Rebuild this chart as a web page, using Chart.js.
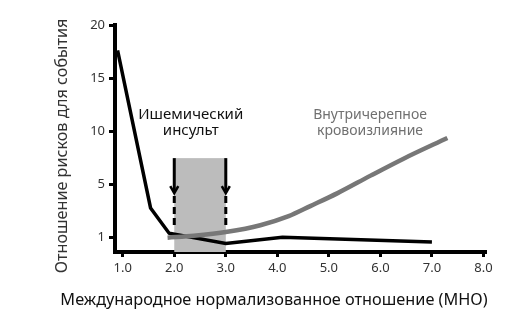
<!DOCTYPE html>
<html>
<head>
<meta charset="utf-8">
<script src="https://cdn.jsdelivr.net/npm/chart.js@4/dist/chart.umd.min.js"></script>
<style>
    body { margin: 0; background: #fff; }
    #contenedor { width: 529px; height: 328px; }
</style>
</head>
<body>
<div id="contenedor"><canvas id="grafica"></canvas></div>
<script>
// Valores de la grafica
const etiquetasY = [1, 5, 10, 15, 20];
const etiquetasX = [1, 2, 3, 4, 5, 6, 7, 8];

const isquemicoX = [0.9, 1.54, 1.9, 3.0, 4.1, 7.0];
const isquemicoY = [17.6, 3.2, 1.3, 0.88, 1.0, 0.91];

const hemorragiaX = [1.87, 2.38, 3.03, 3.67, 4.22, 4.64, 5.17, 5.81, 6.45, 7.3];
const hemorragiaY = [0.99, 1.1, 1.4, 1.9, 2.58, 3.34, 4.32, 5.8, 7.4, 9.35];

const rangoObjetivo = [2.0, 3.0];
const alturaRango = 7.45;

const tituloX = 'Международное нормализованное отношение (МНО)';
const tituloY = 'Отношение рисков для события';

const fuente = '"Noto Sans", "Open Sans", sans-serif';

// el eje Y no es lineal: las etiquetas 1,5,10,15,20 quedan a igual distancia
function aEje(valor) {
    if (valor <= etiquetasY[0]) {
        return valor - etiquetasY[0];
    }
    for (let i = 0; i < etiquetasY.length - 1; i++) {
        if (valor <= etiquetasY[i + 1]) {
            return i + (valor - etiquetasY[i]) / (etiquetasY[i + 1] - etiquetasY[i]);
        }
    }
    return etiquetasY.length - 1;
}

function puntos(xs, ys) {
    return xs.map((x, i) => ({x: x, y: aEje(ys[i])}));
}

const pluginAnotaciones = {
    id: 'anotaciones',
    beforeDatasetsDraw(chart) {
        const ctx = chart.ctx;
        const ejeX = chart.scales.x;
        const ejeY = chart.scales.y;
        const x1 = ejeX.getPixelForValue(rangoObjetivo[0]);
        const x2 = ejeX.getPixelForValue(rangoObjetivo[1]);
        const arriba = ejeY.getPixelForValue(aEje(alturaRango));
        const abajo = chart.chartArea.bottom;

        ctx.save();
        ctx.fillStyle = '#bcbcbc';
        ctx.fillRect(x1, arriba, x2 - x1, abajo - arriba);

        // flechas
        [x1, x2].forEach(x => {
            ctx.strokeStyle = '#000';
            ctx.lineWidth = 3;
            ctx.setLineDash([]);
            ctx.beginPath();
            ctx.moveTo(x, arriba);
            ctx.lineTo(x, arriba + 34);
            ctx.stroke();
            ctx.lineWidth = 2.5;
            ctx.beginPath();
            ctx.moveTo(x - 4, arriba + 28);
            ctx.lineTo(x, arriba + 35);
            ctx.lineTo(x + 4, arriba + 28);
            ctx.stroke();
            ctx.lineWidth = 3;
            ctx.setLineDash([7, 4]);
            ctx.beginPath();
            ctx.moveTo(x, arriba + 38);
            ctx.lineTo(x, arriba + 69);
            ctx.stroke();
        });
        ctx.restore();
    },
    afterDraw(chart) {
        const ctx = chart.ctx;
        const ejeX = chart.scales.x;
        const ejeY = chart.scales.y;
        ctx.save();
        ctx.textAlign = 'center';
        ctx.textBaseline = 'middle';

        ctx.font = '15px ' + fuente;
        ctx.fillStyle = '#111';
        let x = ejeX.getPixelForValue(2.32);
        let y = ejeY.getPixelForValue(aEje(11.5));
        ctx.fillText('Ишемический', x, y);
        ctx.fillText('инсульт', x, y + 16);

        ctx.font = '14px ' + fuente;
        ctx.fillStyle = '#707070';
        x = ejeX.getPixelForValue(5.8);
        ctx.fillText('Внутричерепное', x, y);
        ctx.fillText('кровоизлияние', x, y + 16);

        // titulos de los ejes
        ctx.font = '16.3px ' + fuente;
        ctx.fillStyle = '#111';
        ctx.fillText(tituloX, 274, 300);

        ctx.font = '16.2px ' + fuente;
        ctx.fillStyle = '#333';
        ctx.translate(62, 146);
        ctx.rotate(-Math.PI / 2);
        ctx.fillText(tituloY, 0, 0);
        ctx.restore();
    }
};

const configuracion = {
    type: 'line',
    data: {
        datasets: [{
            label: 'Внутричерепное кровоизлияние',
            data: puntos(hemorragiaX, hemorragiaY),
            borderColor: '#777777',
            borderWidth: 4.5,
            pointRadius: 0,
            cubicInterpolationMode: 'monotone',
            fill: false
        }, {
            label: 'Ишемический инсульт',
            data: puntos(isquemicoX, isquemicoY),
            borderColor: '#000000',
            borderWidth: 3.5,
            pointRadius: 0,
            tension: 0,
            fill: false
        }]
    },
    options: {
        responsive: true,
        maintainAspectRatio: false,
        animation: false,
        layout: {
            padding: {top: 25, right: 44, left: 0, bottom: 0}
        },
        plugins: {
            legend: {display: false},
            tooltip: {enabled: false}
        },
        scales: {
            x: {
                type: 'linear',
                min: 0.85,
                max: 8.03,
                afterBuildTicks: escala => {
                    escala.ticks = etiquetasX.map(v => ({value: v}));
                },
                afterFit: escala => { escala.height = 76; },
                ticks: {
                    color: '#333',
                    font: {family: fuente, size: 13},
                    padding: 3,
                    callback: v => v.toFixed(1)
                },
                grid: {
                    drawOnChartArea: false,
                    tickLength: 5,
                    tickColor: '#000',
                    lineWidth: 3
                },
                border: {display: true, color: '#000', width: 4}
            },
            y: {
                type: 'linear',
                min: -0.28,
                max: 4,
                afterBuildTicks: escala => {
                    escala.ticks = etiquetasY.map((v, i) => ({value: i}));
                },
                afterFit: escala => { escala.width = 115; },
                ticks: {
                    color: '#333',
                    font: {family: fuente, size: 13},
                    padding: 4,
                    callback: (v, i) => etiquetasY[i]
                },
                grid: {
                    drawOnChartArea: false,
                    tickLength: 6,
                    tickColor: '#000',
                    lineWidth: 3
                },
                border: {display: true, color: '#000', width: 4}
            }
        }
    },
    plugins: [pluginAnotaciones]
};

document.addEventListener('DOMContentLoaded', () => {
    new Chart(document.getElementById('grafica'), configuracion);
});
</script>
</body>
</html>
